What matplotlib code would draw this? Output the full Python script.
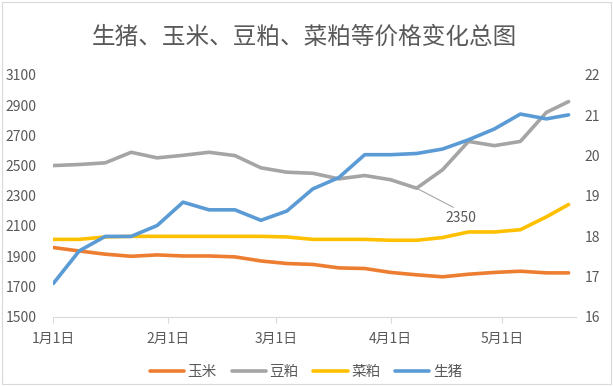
import matplotlib
matplotlib.use("Agg")
import matplotlib.pyplot as plt
import matplotlib.dates as mdates
from matplotlib.ticker import FuncFormatter, FixedLocator
import datetime as dt

plt.rcParams['font.family'] = ['Noto Sans CJK SC', 'DejaVu Sans']

# weekly dates (2016)
dates = [dt.date(2016, 1, 1), dt.date(2016, 1, 8), dt.date(2016, 1, 15), dt.date(2016, 1, 22),
         dt.date(2016, 1, 29), dt.date(2016, 2, 5), dt.date(2016, 2, 12), dt.date(2016, 2, 19),
         dt.date(2016, 2, 26), dt.date(2016, 3, 4), dt.date(2016, 3, 11), dt.date(2016, 3, 18),
         dt.date(2016, 3, 25), dt.date(2016, 4, 1), dt.date(2016, 4, 8), dt.date(2016, 4, 15),
         dt.date(2016, 4, 22), dt.date(2016, 4, 29), dt.date(2016, 5, 6), dt.date(2016, 5, 13),
         dt.date(2016, 5, 19)]

# left axis series (yuan / ton)
corn = [1957, 1934, 1913, 1899, 1908, 1901, 1901, 1895, 1868, 1851, 1845,
        1822, 1818, 1792, 1776, 1763, 1780, 1792, 1800, 1789, 1789]
soymeal = [2500, 2507, 2518, 2588, 2551, 2568, 2588, 2566, 2485, 2456, 2449,
           2412, 2434, 2406, 2350, 2472, 2660, 2632, 2660, 2852, 2924]
rapemeal = [2011, 2011, 2027, 2031, 2031, 2031, 2031, 2031, 2031, 2027, 2011,
            2011, 2011, 2005, 2005, 2023, 2060, 2060, 2075, 2160, 2242]
# right axis series (yuan / kg)
hog = [16.82, 17.63, 17.99, 17.99, 18.26, 18.84, 18.65, 18.65, 18.39, 18.62, 19.17,
       19.45, 20.02, 20.02, 20.05, 20.16, 20.39, 20.66, 21.03, 20.91, 21.01]

left_ticks = [1500, 1700, 1900, 2100, 2300, 2500, 2700, 2900, 3100]
right_ticks = [16, 17, 18, 19, 20, 21, 22]
month_ticks = [dt.date(2016, m, 1) for m in range(1, 6)]

text_color = "#595959"
axis_color = "#d9d9d9"

fig = plt.figure(figsize=(6.13, 3.86), dpi=100)
ax = fig.add_axes([53.3 / 613, 1 - 316.5 / 386, (576 - 53.3) / 613, (316.5 - 75) / 386])
ax2 = ax.twinx()

l1, = ax.plot(dates, corn, color="#ED7D31", lw=2.6, label="玉米", solid_capstyle="round")
l2, = ax.plot(dates, soymeal, color="#A5A5A5", lw=2.6, label="豆粕", solid_capstyle="round")
l3, = ax.plot(dates, rapemeal, color="#FFC000", lw=2.6, label="菜粕", solid_capstyle="round")
l4, = ax2.plot(dates, hog, color="#5B9BD5", lw=2.6, label="生猪", solid_capstyle="round")

ax.set_ylim(1500, 3100)
ax2.set_ylim(16, 22)
ax.set_yticks(left_ticks)
ax2.set_yticks(right_ticks)
ax.set_xlim(dt.date(2016, 1, 1), dt.date(2016, 5, 21))
ax.xaxis.set_major_locator(FixedLocator(mdates.date2num(month_ticks)))
ax.xaxis.set_major_formatter(FuncFormatter(
    lambda v, p: f"{mdates.num2date(v).month}月{mdates.num2date(v).day}日"))

for a in (ax, ax2):
    for s in a.spines.values():
        s.set_visible(False)
    a.tick_params(axis="y", length=0, labelsize=10, labelcolor=text_color)
ax.tick_params(axis="y", pad=12)
ax2.tick_params(axis="y", pad=6)
ax.spines["bottom"].set_visible(True)
ax.spines["bottom"].set_color(axis_color)
ax.tick_params(axis="x", length=4, color=axis_color, labelsize=10,
               labelcolor=text_color, pad=7)

# data label for the soymeal low
ax.annotate("2350", xy=(dates[14], soymeal[14]), xytext=(dt.date(2016, 4, 20), 2150),
            fontsize=10, color=text_color, ha="center", va="center",
            arrowprops=dict(arrowstyle="-", color="#a6a6a6", lw=0.8,
                            relpos=(0.5, 1.0), shrinkA=2, shrinkB=0))

fig.suptitle("生猪、玉米、豆粕、菜粕等价格变化总图", x=304 / 613, y=1 - 37 / 386, va="center",
             fontsize=17, color=text_color)

fig.legend(handles=[l1, l2, l3, l4], loc="center", bbox_to_anchor=(306 / 613, 1 - 372 / 386),
           ncol=4, frameon=False, fontsize=10.5, labelcolor=text_color,
           handlelength=2.35, handletextpad=0.25, columnspacing=1.0)

fig.patches.append(plt.Rectangle((2 / 613, 2 / 386), 1 - 4 / 613, 1 - 4 / 386,
                                 transform=fig.transFigure, fill=False,
                                 edgecolor="#d9d9d9", lw=0.8))

fig.savefig("out.png", dpi=100)
